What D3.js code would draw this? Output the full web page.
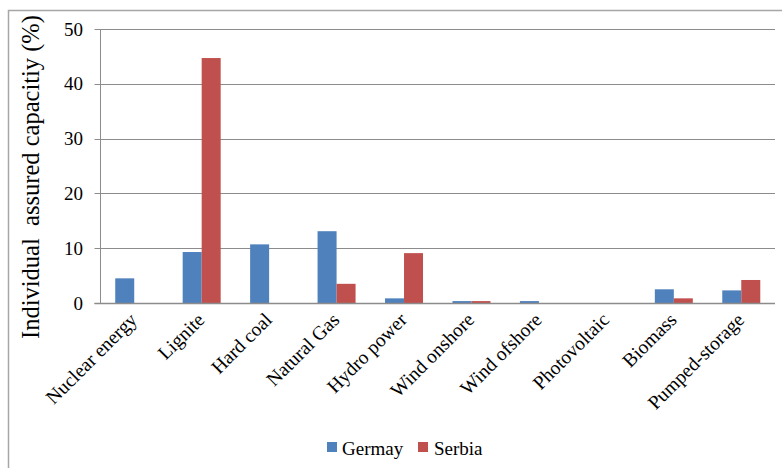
<!DOCTYPE html>
<html>
<head>
<meta charset="utf-8">
<script src="https://cdn.jsdelivr.net/npm/d3@7/dist/d3.min.js"></script>
<style>
  html, body { margin: 0; padding: 0; background: #fff; }
  svg { display: block; }
</style>
</head>
<body>
<svg id="chart" width="782" height="468"></svg>
<script>
const categories = ["Nuclear energy", "Lignite", "Hard coal", "Natural Gas", "Hydro power",
  "Wind onshore", "Wind ofshore", "Photovoltaic", "Biomass", "Pumped-storage"];
const seriesNames = ["Germay", "Serbia"];
const germany = [4.5, 9.3, 10.7, 13.1, 0.85, 0.35, 0.35, 0, 2.5, 2.3];
const serbia  = [0, 44.7, 0, 3.5, 9.1, 0.35, 0, 0, 0.85, 4.2];
const yTicks = [0, 10, 20, 30, 40, 50];
const colors = ["#4F81BD", "#C0504D"];
const yTitle = "Individual\u00A0 assured capacitiy (%)";

(function () {
const FONT = '"Liberation Serif"';
const svg = d3.select("#chart");

// outer chart border
svg.append("rect").attr("x", 8.5).attr("y", 10.5).attr("width", 800).attr("height", 500)
  .attr("fill", "none").attr("stroke", "#a6a6a6").attr("stroke-width", 1.5);

const pl = 100.5, pr = 775, pt = 29, pb = 303;
const x = d3.scaleBand().domain(categories).range([pl, pr]).paddingInner(0).paddingOuter(0);
const y = d3.scaleLinear().domain([0, 50]).range([pb, pt]);

// gridlines
svg.append("g").selectAll("line").data(yTicks).join("line")
  .attr("x1", pl - 6).attr("x2", pr)
  .attr("y1", d => Math.round(y(d)) + 0.5).attr("y2", d => Math.round(y(d)) + 0.5)
  .attr("stroke", "#8c8c8c").attr("stroke-width", 1);

// y axis
const yAxis = d3.axisLeft(y).tickValues(yTicks).tickSize(0).tickPadding(0);
const gy = svg.append("g").attr("transform", `translate(83,0)`).call(yAxis);
gy.select(".domain").remove();
gy.attr("font-family", null);
gy.selectAll("text").attr("font-size", 19).style("font-family", FONT).attr("fill", "#000");

svg.append("line").attr("x1", pl).attr("x2", pl).attr("y1", pt).attr("y2", pb)
  .attr("stroke", "#8c8c8c").attr("stroke-width", 1);

// bars
const bw = 19;
const series = [germany, serbia];
series.forEach((vals, si) => {
  svg.append("g").selectAll("rect").data(vals).join("rect")
    .attr("x", (d, i) => x(categories[i]) + x.bandwidth() / 2 - bw + si * bw)
    .attr("y", d => y(d))
    .attr("width", bw)
    .attr("height", d => y(0) - y(d))
    .attr("fill", colors[si]);
});

// x axis line
svg.append("line").attr("x1", pl - 6).attr("x2", pr)
  .attr("y1", Math.round(y(0)) + 0.5).attr("y2", Math.round(y(0)) + 0.5)
  .attr("stroke", "#8c8c8c").attr("stroke-width", 1.5);

// x labels
svg.append("g").selectAll("text").data(categories).join("text")
  .attr("transform", d => `translate(${x(d) + x.bandwidth() / 2 + 4},${321}) rotate(-45)`)
  .attr("text-anchor", "end")
  .attr("font-size", 19.5)
  .attr("fill", "#000")
  .style("font-family", FONT)
  .text(d => d);

// y title
svg.append("text")
  .attr("transform", `translate(39,177) rotate(-90)`)
  .attr("text-anchor", "middle")
  .attr("font-size", 24.5)
  .attr("fill", "#000")
  .style("font-family", FONT)
  .text(yTitle);

// legend
const leg = svg.append("g");
const legX = [327, 418];
const legTX = [342, 434];
seriesNames.forEach((n, i) => {
  leg.append("rect").attr("x", legX[i]).attr("y", 442).attr("width", 10).attr("height", 10).attr("fill", colors[i]);
  leg.append("text").attr("x", legTX[i]).attr("y", 455).attr("font-size", 19)
    .attr("fill", "#000").style("font-family", FONT).text(n);
});
})();
</script>
</body>
</html>
